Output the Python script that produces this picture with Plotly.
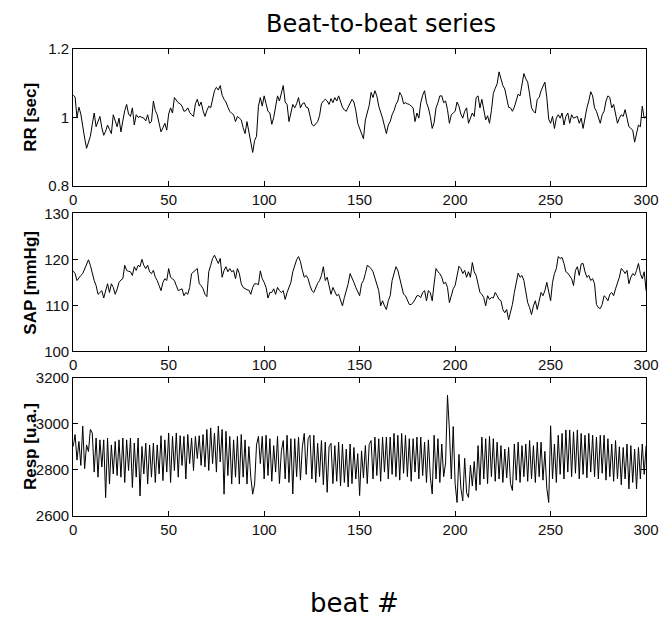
import plotly.graph_objects as go

# ---------------- data ----------------
beats = list(range(0, 301))

rr_sec = [
    1.065, 1.060, 1.000, 1.030, 1.010, 0.970, 0.940, 0.910, 0.930, 0.945,
    0.980, 1.013, 0.973, 0.990, 1.003, 0.970, 0.948, 0.960, 0.978, 0.965,
    0.953, 1.008, 0.990, 0.973, 0.998, 0.958, 0.990, 1.020, 1.038, 1.010,
    1.003, 1.028, 0.978, 1.008, 1.000, 1.003, 1.000, 0.998, 0.990, 1.008,
    0.983, 0.988, 1.048, 1.020, 1.008, 0.983, 0.958, 0.970, 0.983, 0.963,
    1.010, 1.028, 1.013, 1.058, 1.050, 1.043, 1.040, 1.033, 1.018, 1.020,
    1.028, 1.015, 1.008, 1.003, 1.040, 1.053, 1.033, 1.045, 1.020, 1.003,
    1.020, 1.033, 1.028, 1.050, 1.078, 1.088, 1.080, 1.093, 1.065, 1.053,
    1.045, 1.030, 1.018, 1.012, 1.008, 0.988, 1.003, 0.998, 0.993, 0.970,
    0.953, 0.988, 0.960, 0.933, 0.898, 0.933, 0.945, 1.033, 1.058, 1.033,
    1.063, 1.040, 1.018, 1.013, 0.980, 1.000, 1.033, 1.063, 1.048, 1.068,
    1.093, 1.045, 1.038, 0.988, 1.018, 1.038, 1.028, 1.040, 1.058, 1.028,
    1.040, 1.043, 1.030, 1.028, 1.005, 0.980, 0.975, 0.981, 0.988, 1.005,
    1.040, 1.048, 1.053, 1.048, 1.038, 1.055, 1.043, 1.058, 1.048, 1.063,
    1.043, 1.030, 1.022, 1.018, 1.030, 1.043, 1.053, 1.045, 1.020, 0.983,
    0.968, 0.955, 0.938, 0.993, 1.013, 1.035, 1.073, 1.058, 1.078, 1.063,
    1.033, 1.018, 0.998, 0.975, 0.953, 0.978, 0.988, 1.008, 1.020, 1.038,
    1.048, 1.073, 1.063, 1.040, 1.043, 1.040, 1.038, 1.033, 1.028, 0.988,
    1.013, 0.998, 1.043, 1.065, 1.078, 1.043, 1.028, 1.003, 0.968, 0.985,
    1.028, 1.043, 1.063, 1.063, 1.043, 1.048, 1.023, 0.983, 1.008, 1.013,
    1.018, 1.045, 1.033, 1.010, 0.998, 1.018, 1.028, 0.983, 0.998, 1.013,
    1.003, 1.058, 1.063, 1.028, 1.053, 1.028, 0.993, 1.005, 0.983, 1.020,
    1.070, 1.085, 1.098, 1.133, 1.113, 1.093, 1.083, 1.060, 1.030, 1.028,
    1.018, 1.030, 1.048, 1.068, 1.063, 1.103, 1.128, 1.113, 1.103, 1.068,
    1.028, 1.018, 1.013, 1.053, 1.058, 1.078, 1.090, 1.103, 1.058, 0.995,
    0.983, 1.003, 0.968, 0.998, 1.008, 0.998, 1.013, 0.978, 1.003, 1.013,
    0.983, 1.008, 0.998, 1.000, 1.003, 0.983, 0.998, 0.968, 1.003, 1.028,
    1.048, 1.075, 1.063, 1.028, 1.018, 1.003, 0.983, 1.008, 1.018, 1.048,
    1.063, 1.058, 1.028, 1.038, 1.008, 0.983, 0.998, 1.008, 1.003, 1.023,
    0.998, 0.973, 0.968, 0.963, 0.928, 0.953, 0.978, 0.973, 1.033, 0.998,
    1.003,
]

sap_mmhg = [
    117.5, 116.9, 115.4, 116.1, 116.5, 116.9, 118.0, 119.0, 119.9, 118.7,
    116.9, 115.4, 114.3, 112.4, 112.8, 113.2, 111.6, 113.2, 114.7, 112.8,
    114.7, 113.9, 112.4, 113.5, 115.0, 115.5, 115.8, 118.7, 117.6, 117.4,
    117.3, 116.5, 118.4, 117.6, 118.7, 118.4, 120.0, 118.7, 118.0, 118.7,
    117.3, 116.9, 117.6, 116.1, 115.4, 114.3, 113.2, 115.0, 115.8, 115.4,
    118.0, 116.1, 115.8, 115.4, 114.3, 113.2, 113.4, 113.6, 112.1, 112.8,
    112.4, 113.9, 116.9, 117.3, 117.6, 118.0, 114.7, 114.3, 113.6, 112.4,
    111.9, 117.3, 118.7, 120.2, 120.9, 119.9, 119.1, 120.2, 116.1, 117.6,
    118.4, 117.3, 118.0, 117.3, 117.6, 115.8, 118.0, 116.9, 114.7, 113.9,
    113.6, 113.4, 113.3, 112.4, 113.9, 114.7, 114.7, 114.5, 117.5, 115.8,
    115.0, 113.9, 111.6, 112.8, 112.8, 113.6, 112.4, 113.9, 113.2, 112.8,
    113.2, 111.3, 112.8, 113.9, 115.0, 117.3, 118.5, 119.9, 120.6, 119.5,
    117.6, 116.1, 116.5, 115.8, 114.3, 113.2, 112.8, 113.9, 114.8, 115.4,
    116.5, 118.4, 115.4, 116.1, 114.3, 112.4, 113.9, 112.8, 112.1, 112.4,
    111.0, 109.9, 111.7, 113.2, 114.7, 116.9, 116.1, 115.0, 113.9, 112.8,
    112.1, 114.7, 115.4, 116.9, 118.7, 118.4, 118.0, 117.3, 115.8, 114.7,
    113.2, 109.9, 111.0, 109.9, 109.1, 111.0, 112.1, 115.4, 116.9, 118.4,
    117.6, 115.8, 114.7, 112.4, 112.1, 111.0, 110.2, 110.2, 110.6, 111.3,
    112.1, 112.1, 111.7, 112.8, 113.2, 111.0, 113.2, 112.8, 111.0, 114.7,
    118.0, 117.3, 116.9, 116.1, 114.7, 115.0, 113.9, 110.6, 112.1, 113.6,
    114.3, 116.9, 118.5, 118.0, 116.9, 117.6, 116.1, 117.3, 116.1, 119.3,
    117.3, 116.5, 114.7, 112.8, 112.4, 111.7, 109.9, 112.1, 111.3, 111.7,
    111.6, 112.8, 112.1, 111.3, 111.0, 109.1, 108.4, 109.1, 106.9, 108.7,
    110.2, 112.8, 115.4, 117.0, 116.1, 116.5, 115.4, 113.2, 110.6, 109.5,
    108.0, 109.9, 111.0, 109.1, 111.0, 112.8, 112.1, 113.2, 115.0, 113.2,
    111.0, 115.0, 116.9, 118.0, 120.6, 120.2, 120.4, 119.1, 117.3, 117.0,
    116.5, 115.8, 114.3, 117.6, 118.4, 116.5, 119.0, 119.1, 117.3, 116.1,
    116.5, 115.4, 115.8, 114.7, 110.2, 109.5, 109.3, 110.2, 112.1, 111.7,
    111.0, 112.4, 112.8, 112.1, 113.6, 114.7, 116.1, 118.0, 117.6, 116.9,
    117.6, 114.7, 116.1, 116.9, 116.5, 117.6, 119.1, 116.9, 115.8, 117.3,
    113.2,
]

resp_ua = [
    2901, 2953, 2842, 2923, 2819, 2990, 2805, 2908, 2879, 2975,
    2960, 2790, 2938, 2768, 2930, 2812, 2930, 2679, 2938, 2738,
    2908, 2782, 2923, 2775, 2930, 2768, 2938, 2745, 2930, 2797,
    2938, 2723, 2916, 2768, 2938, 2686, 2901, 2782, 2916, 2738,
    2908, 2768, 2916, 2745, 2908, 2782, 2948, 2753, 2930, 2790,
    2960, 2745, 2945, 2797, 2960, 2768, 2948, 2819, 2945, 2760,
    2953, 2827, 2938, 2797, 2945, 2849, 2948, 2819, 2953, 2812,
    2975, 2797, 2982, 2827, 2960, 2790, 2990, 2834, 2975, 2694,
    2967, 2775, 2945, 2738, 2930, 2768, 2945, 2738, 2953, 2768,
    2930, 2738, 2901, 2768, 2694, 2738, 2908, 2945, 2827, 2945,
    2760, 2950, 2775, 2935, 2750, 2905, 2790, 2945, 2740, 2880,
    2927, 2760, 2950, 2745, 2935, 2695, 2935, 2770, 2942, 2755,
    2900, 2958, 2780, 2935, 2950, 2760, 2950, 2745, 2915, 2770,
    2927, 2735, 2920, 2702, 2900, 2915, 2740, 2905, 2750, 2920,
    2730, 2912, 2745, 2890, 2725, 2912, 2740, 2897, 2760, 2870,
    2688, 2882, 2765, 2905, 2740, 2910, 2927, 2760, 2942, 2775,
    2935, 2750, 2942, 2790, 2942, 2760, 2942, 2780, 2958, 2770,
    2950, 2755, 2958, 2785, 2950, 2770, 2935, 2750, 2935, 2790,
    2942, 2760, 2942, 2775, 2920, 2745, 2930, 2770, 2695, 2950,
    2760, 2935, 2745, 2912, 2770, 2830, 3124, 2973, 2760, 2988,
    2740, 2658, 2867, 2720, 2665, 2850, 2700, 2680, 2820, 2730,
    2836, 2710, 2905, 2735, 2942, 2760, 2935, 2740, 2945, 2770,
    2935, 2750, 2920, 2760, 2905, 2745, 2890, 2765, 2897, 2740,
    2710, 2912, 2755, 2920, 2745, 2905, 2770, 2912, 2750, 2927,
    2760, 2905, 2745, 2920, 2770, 2920, 2755, 2880, 2720, 2658,
    2991, 2760, 2912, 2745, 2950, 2780, 2958, 2760, 2973, 2790,
    2973, 2770, 2965, 2785, 2973, 2760, 2958, 2780, 2950, 2765,
    2958, 2790, 2950, 2770, 2942, 2760, 2950, 2785, 2950, 2755,
    2935, 2770, 2912, 2750, 2927, 2760, 2900, 2735, 2897, 2760,
    2912, 2717, 2905, 2745, 2890, 2717, 2897, 2760, 2912, 2780,
    2905,
]

x_ticks = [0, 50, 100, 150, 200, 250, 300]
rr_ticks = [0.8, 1.0, 1.2]
rr_tick_text = ["0.8", "1", "1.2"]
sap_ticks = [100, 110, 120, 130]
resp_ticks = [2600, 2800, 3000, 3200]

title_text = "Beat-to-beat series"
x_title = "beat #"
y_titles = ["RR [sec]", "SAP [mmHg]", "Resp [u.a.]"]

# ---------------- figure ----------------
W, H = 663, 625
x_dom = [71 / W, 659 / W]
panels_px = [(41, 182), (210, 352), (379, 521)]   # top, bottom in pixels
y_doms = [[1 - b / H, 1 - t / H] for t, b in panels_px]

fig = go.Figure()
series = [rr_sec, sap_mmhg, resp_ua]
for i, ys in enumerate(series):
    sfx = "" if i == 0 else str(i + 1)
    fig.add_trace(go.Scatter(
        x=beats, y=ys, mode="lines",
        line=dict(color="black", width=1),
        xaxis="x" + sfx, yaxis="y" + sfx,
        showlegend=False, hoverinfo="skip",
    ))

tick_font = dict(family="Liberation Sans, Arial, sans-serif", size=15, color="#111")
axis_common = dict(
    showline=True, linecolor="black", linewidth=1, mirror="allticks",
    ticks="inside", ticklen=5, tickwidth=1, tickcolor="black",
    showgrid=False, zeroline=False, tickfont=tick_font,
    ticklabeloverflow="allow",
)

y_ranges = [[0.8, 1.2], [100, 130], [2600, 3200]]
y_tickvals = [rr_ticks, sap_ticks, resp_ticks]
y_ticktext = [rr_tick_text, [str(v) for v in sap_ticks], [str(v) for v in resp_ticks]]

layout = dict(
    width=W, height=H,
    margin=dict(l=0, r=0, t=0, b=0),
    paper_bgcolor="white", plot_bgcolor="white",
    showlegend=False,
)
for i in range(3):
    sfx = "" if i == 0 else str(i + 1)
    layout["xaxis" + sfx] = dict(
        domain=x_dom, anchor="y" + sfx, range=[0, 300],
        tickvals=x_ticks, ticktext=[str(v) for v in x_ticks], **axis_common,
    )
    layout["yaxis" + sfx] = dict(
        domain=y_doms[i], anchor="x" + sfx, range=y_ranges[i],
        tickvals=y_tickvals[i], ticktext=y_ticktext[i], **axis_common,
    )

annotations = [
    dict(text=title_text, x=387 / W, y=1 - 15 / H, xref="paper", yref="paper",
         xanchor="center", yanchor="middle", showarrow=False,
         font=dict(family="DejaVu Sans, Verdana, sans-serif", size=24, color="black")),
    dict(text=x_title, x=360 / W, y=1 - 611 / H, xref="paper", yref="paper",
         xanchor="center", yanchor="middle", showarrow=False,
         font=dict(family="DejaVu Sans, Verdana, sans-serif", size=26, color="black")),
]
for i, (t, b) in enumerate(panels_px):
    annotations.append(dict(
        text="<b>" + y_titles[i] + "</b>", x=27 / W, y=1 - ((t + b) / 2) / H,
        xref="paper", yref="paper", xanchor="center", yanchor="middle",
        textangle=-90, showarrow=False,
        font=dict(family="Liberation Sans, Arial, sans-serif", size=17, color="black"),
    ))
layout["annotations"] = annotations

fig.update_layout(**layout)
fig.write_html("out.html")
